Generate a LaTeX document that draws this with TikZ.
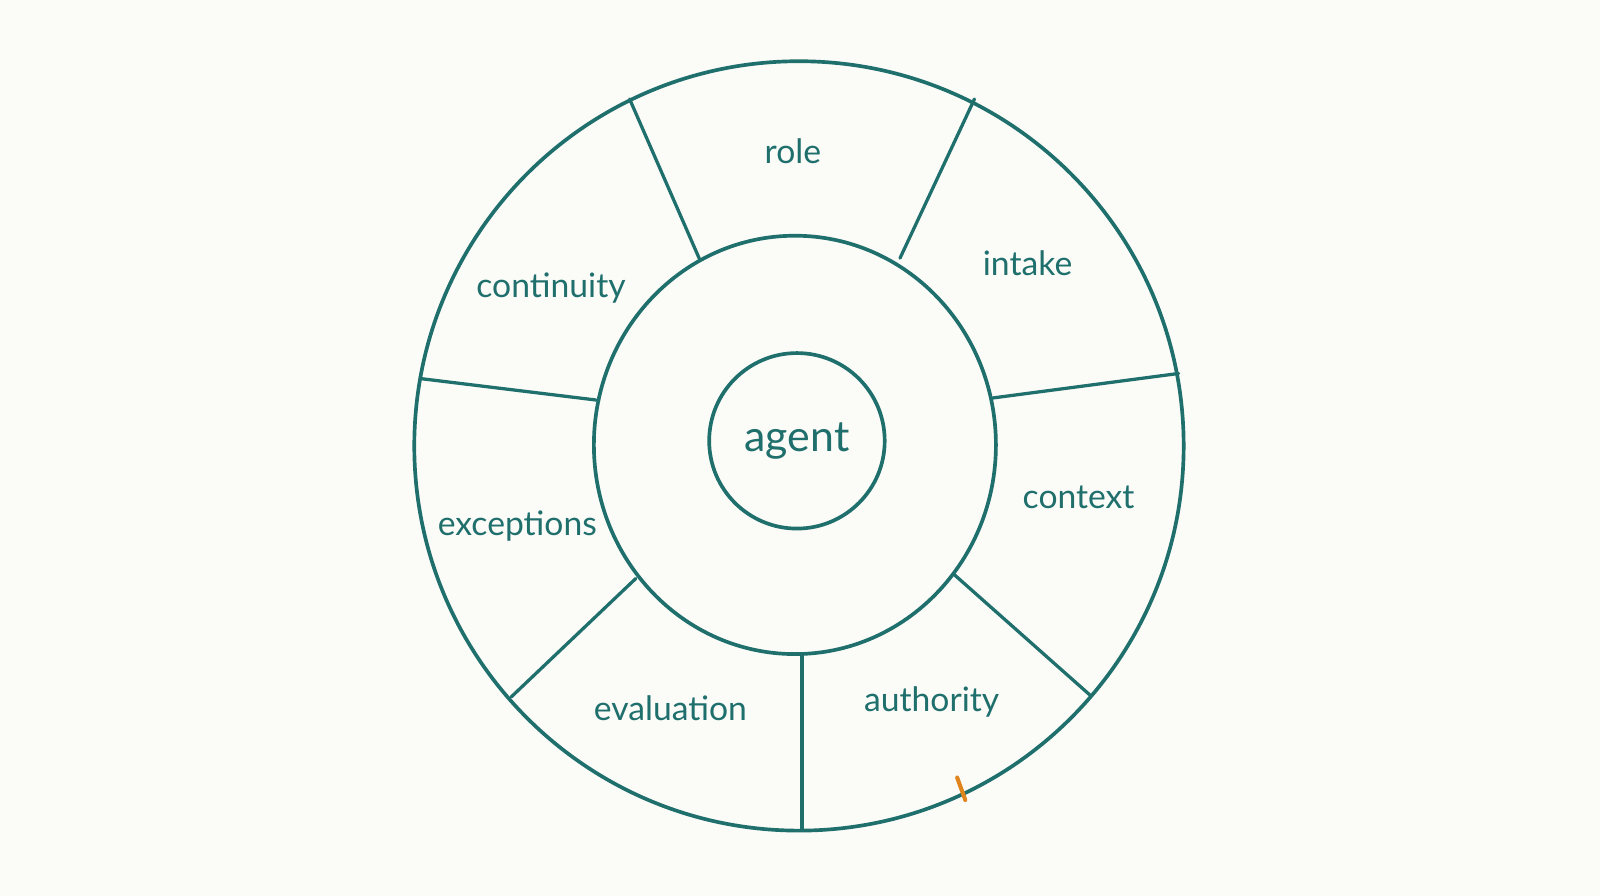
\documentclass[tikz,border=0pt]{standalone}
\usepackage{fontspec}
\setmainfont{Lato}
\usetikzlibrary{positioning, calc}
\definecolor{wheel}{HTML}{1F6F6C}
\definecolor{paper}{HTML}{FBFBF8}
\definecolor{tick}{HTML}{E0851E}
\tikzset{
  ring/.style={draw=wheel, line width=3.6pt},
  spoke/.style={draw=wheel, line width=3.2pt, line cap=round},
  slice/.style={text=wheel, font=\fontsize{33}{36}\selectfont},
}
\begin{document}
\begin{tikzpicture}[x=1pt, y=-1pt]
\fill[paper] (0,0) rectangle (1568,878);
\useasboundingbox (0,0) rectangle (1568,878);

\coordinate (c) at (783,437);
% rings
\draw[ring] (c) ellipse [x radius=377, y radius=377];
\draw[ring] (779,436) ellipse [x radius=197, y radius=205];
\node (agent) [ring, circle, minimum size=172pt, inner sep=0pt, text=wheel,
  font=\fontsize{42}{46}\selectfont] at (781,432) {agent};

% spokes between middle and outer ring
\foreach \xa/\ya/\xb/\yb in {686/255/617/97, 882/253/955/97, 973/390/1155/366,
    935/563/1068/681, 786/641/786/813, 623/567/501/683, 584/392/412/371} {
  \coordinate (in) at (\xa,\ya);
  \coordinate (out) at (\xb,\yb);
  \draw[spoke] (in) -- (out);
}

% labels
\node (role) [slice] at (777,148) {role};
\node (intake) [slice] at (1007,258) {intake};
\node (context) [slice] at (1057,487) {context};
\node (authority) [slice] at (913,688) {authority};
\node (evaluation) [slice] at (657,694) {evaluation};
\node (exceptions) [slice] at (507,516) {exceptions};
\node (continuity) [slice] at (540,282) {continuity};

% orange pen mark
\draw[tick, line width=4pt, line cap=round] (938,762) -- (946,784);
\end{tikzpicture}
\end{document}
